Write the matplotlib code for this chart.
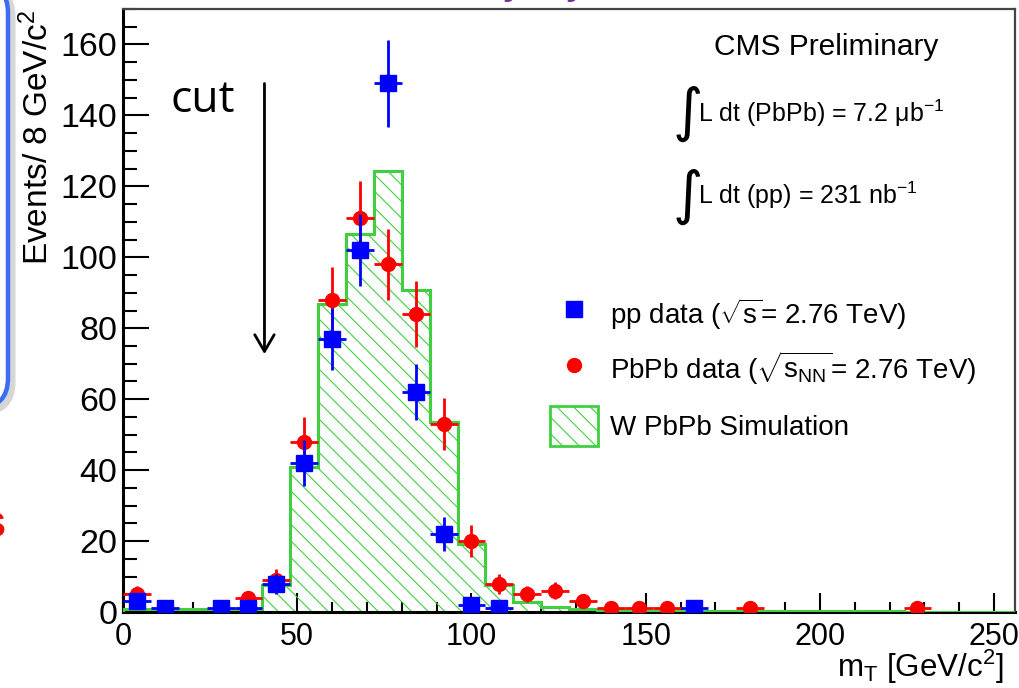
import numpy as np
import matplotlib
matplotlib.use("Agg")
import matplotlib.pyplot as plt
from matplotlib.patches import Patch, FancyBboxPatch
from matplotlib.lines import Line2D
from matplotlib.transforms import IdentityTransform

# ---------------- data ----------------
bin_edges = list(range(0, 257, 8))
sim_counts = [0.8, 0.8, 0.8, 0.8, 0.8, 7.6, 41.0, 86.8, 106.6, 124.3, 90.8, 53.6,
              19.1, 7.6, 2.9, 1.5, 0.8, 0.5, 0.4, 0.3, 0.3, 0.2, 0.3, 0.2,
              0.2, 0.3, 0.2, 0.2, 0.1, 0.1, 0.1, 0.1]

pp_mt = [4, 12, 28, 36, 44, 52, 60, 68, 76, 84, 92, 100, 108, 164]
pp_counts = [3, 1, 1, 1, 8, 42, 77, 102, 149, 62, 22, 2, 1, 1]
pp_err = [1.7, 1.0, 1.0, 1.0, 2.8, 6.5, 8.8, 10.1, 12.2, 7.9, 4.7, 1.4, 1.0, 1.0]

pbpb_mt = [4, 36, 44, 52, 60, 68, 76, 84, 92, 100, 108, 116, 124, 132, 140, 148, 156, 180, 228]
pbpb_counts = [5, 4, 9, 48, 88, 111, 98, 84, 53, 20, 8, 5, 6, 3, 1, 1, 1, 1, 1]
pbpb_err = [2.2, 2.0, 3.0, 6.9, 9.4, 10.5, 9.9, 9.2, 7.3, 4.5, 2.8, 2.2, 2.4, 1.7,
            1.0, 1.0, 1.0, 1.0, 1.0]
half_bin = 4

x_ticks = [0, 50, 100, 150, 200, 250]
y_ticks = [0, 20, 40, 60, 80, 100, 120, 140, 160]
cut_value = 40.6

labels = ["pp data ($\\sqrt{s}$= 2.76 TeV)",
          "PbPb data ($\\sqrt{s_{NN}}$= 2.76 TeV)",
          "W PbPb Simulation"]

# ---------------- style ----------------
GREEN = "#3fcf3f"
plt.rcParams["font.family"] = ["Liberation Sans", "DejaVu Sans"]
plt.rcParams["mathtext.fontset"] = "custom"
plt.rcParams["mathtext.rm"] = "Liberation Sans"
plt.rcParams["mathtext.it"] = "Liberation Sans:italic"
plt.rcParams["mathtext.bf"] = "Liberation Sans:bold"
plt.rcParams["mathtext.default"] = "regular"
plt.rcParams["hatch.color"] = GREEN
plt.rcParams["hatch.linewidth"] = 0.8

W, H = 1019, 688
fig = plt.figure(figsize=(W / 100, H / 100), dpi=100)
fig.patch.set_facecolor("white")


def fx(p):
    return p / W


def fy(p):
    return 1 - p / H


ax = fig.add_axes([fx(123), fy(612), fx(1015) - fx(123), fy(9) - fy(612)])

# histogram
ax.stairs(sim_counts, bin_edges, fill=True, facecolor="none", edgecolor=GREEN,
          hatch="\\\\", linewidth=0, zorder=2)
ax.stairs(sim_counts, bin_edges, baseline=0, color=GREEN, linewidth=2.2, zorder=3)

# data
ax.errorbar(pbpb_mt, pbpb_counts, xerr=half_bin, yerr=pbpb_err, fmt="o", color="red",
            ms=10, elinewidth=2, capsize=0, zorder=4)
ax.errorbar(pp_mt, pp_counts, xerr=half_bin, yerr=pp_err, fmt="s", color="blue",
            ms=11, elinewidth=2, capsize=0, zorder=5)

ax.set_xlim(bin_edges[0], bin_edges[-1])
ax.set_ylim(0, 170)
ax.set_xticks(x_ticks)
ax.set_yticks(y_ticks)
ax.set_xticks(np.arange(0, 257, 10), minor=True)
ax.set_yticks(np.arange(0, 171, 5), minor=True)
ax.tick_params(axis="y", which="major", direction="in", length=19, width=1.5,
               labelsize=24.5, pad=4, right=False)
ax.tick_params(axis="y", which="minor", direction="in", length=10, width=1.5, right=False)
ax.tick_params(axis="x", which="major", direction="in", length=14, width=1.5,
               labelsize=22, pad=7, top=False)
ax.tick_params(axis="x", which="minor", direction="in", length=7, width=1.5, top=False)
for s in ["left", "bottom"]:
    ax.spines[s].set_linewidth(2.2)
    ax.spines[s].set_color("black")
for s in ["top", "right"]:
    ax.spines[s].set_linewidth(1.6)
    ax.spines[s].set_color("#444444")

# axis titles
fig.text(fx(38), fy(10), "Events/ 8 GeV/c$^{2}$", rotation=90, ha="center", va="top",
         fontsize=24)
fig.text(fx(1003), fy(677), "m$_{T}$ [GeV/c$^{2}$]", ha="right", va="baseline",
         fontsize=22.5)

# legend
h_pp = Line2D([], [], marker="s", ls="none", color="blue", ms=11)
h_pb = Line2D([], [], marker="o", ls="none", color="red", ms=10)
h_sim = Patch(facecolor="none", edgecolor=GREEN, hatch="\\\\", lw=2)
ax.legend([h_pp, h_pb, h_sim], labels, loc="upper left",
          bbox_to_anchor=(fx(550), fy(295)), bbox_transform=fig.transFigure,
          frameon=False, fontsize=20, handlelength=1.73, handleheight=1.84,
          handletextpad=0.43, labelspacing=0.55, borderpad=0, borderaxespad=0,
          numpoints=1)

# annotations
fig.text(fx(826), fy(47), "CMS Preliminary", ha="center", va="center", fontsize=21.5)
for y_int, y_txt, txt in [(114, 113, "L dt (PbPb) = 7.2 \u03bcb$^{-1}$"),
                          (196, 195, "L dt (pp) = 231 nb$^{-1}$")]:
    fig.text(fx(688), fy(y_int), "\u222b", ha="center", va="center", fontsize=42,
             family="DejaVu Sans")
    fig.text(fx(698), fy(y_txt), txt, ha="left", va="center", fontsize=18)

# cut marker
ax.text(13.5, 141, "cut", ha="left", va="baseline", fontsize=32, family="Open Sans")
ax.annotate("", xy=(cut_value, 72.7), xytext=(cut_value, 149),
            arrowprops=dict(arrowstyle="->,head_length=0.6,head_width=0.35",
                            lw=2, color="black", mutation_scale=20,
                            shrinkA=0, shrinkB=0))

# slide decorations (cropped)
shadow = FancyBboxPatch((-296, H - 412), 308, 425,
                        boxstyle="round,pad=0,rounding_size=30", fill=False,
                        edgecolor="#bbbbbb", lw=5, alpha=0.6,
                        transform=IdentityTransform())
box = FancyBboxPatch((-300, H - 408), 308, 425,
                     boxstyle="round,pad=0,rounding_size=30", fill=False,
                     edgecolor="#3a6cf4", lw=3.2, transform=IdentityTransform())
fig.add_artist(shadow)
fig.add_artist(box)
fig.text(fx(-7), fy(525), "s", color="red", fontsize=34, fontweight="bold",
         ha="center", va="center")
for px in [516, 579]:
    fig.text(fx(px), fy(-6), "y", color="#7030a0", fontsize=26, fontweight="bold",
             style="italic", ha="center", va="baseline")

fig.savefig("out.png", dpi=100)
